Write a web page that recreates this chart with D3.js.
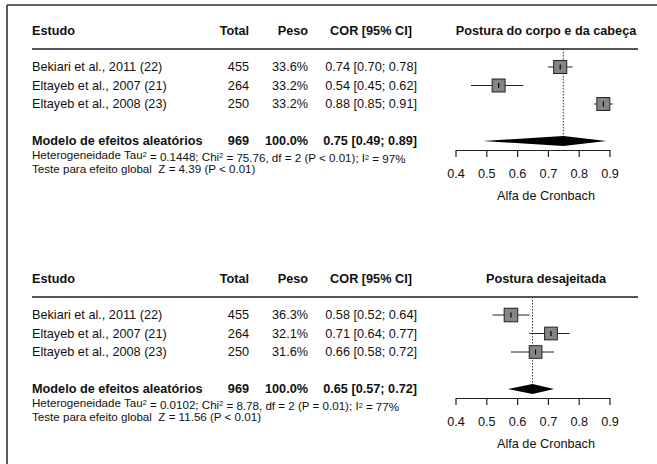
<!DOCTYPE html>
<html>
<head>
<meta charset="utf-8">
<script src="https://cdn.jsdelivr.net/npm/d3@7"></script>
<style>
  html, body { margin: 0; padding: 0; background: #fff; }
  svg { display: block; font-family: "Liberation Sans", Arial, Helvetica, sans-serif; }
  text { fill: #111; white-space: pre; }
</style>
</head>
<body>
<svg id="chart" width="657" height="464"></svg>
<script>
// Study labels shared by both meta-analyses
const studies = ["Bekiari et al., 2011 (22)", "Eltayeb et al., 2007 (21)", "Eltayeb et al., 2008 (23)"];
const totals = [455, 264, 250];

// Panel 1: body and head posture
const title1 = "Postura do corpo e da cabeça";
const weights1 = [33.6, 33.2, 33.2];
const est1 = [0.74, 0.54, 0.88];
const lower1 = [0.70, 0.45, 0.85];
const upper1 = [0.78, 0.62, 0.91];
const pooled1 = [0.75, 0.49, 0.89];
const hetero1 = ["0.1448", "75.76", "2", "P < 0.01", "97%"];
const overall1 = "Z = 4.39 (P < 0.01)";

// Panel 2: awkward posture
const title2 = "Postura desajeitada";
const weights2 = [36.3, 32.1, 31.6];
const est2 = [0.58, 0.71, 0.66];
const lower2 = [0.52, 0.64, 0.58];
const upper2 = [0.64, 0.77, 0.72];
const pooled2 = [0.65, 0.57, 0.72];
const hetero2 = ["0.0102", "8.78", "2", "P = 0.01", "77%"];
const overall2 = "Z = 11.56 (P < 0.01)";

const pooledTotal = 969;
const pooledWeight = "100.0%";
const ticks = [0.4, 0.5, 0.6, 0.7, 0.8, 0.9];
const axisTitle = "Alfa de Cronbach";
const headers = ["Estudo", "Total", "Peso", "COR [95% CI]"];
const modelLabel = "Modelo de efeitos aleatórios";
const heteroLabel = "Heterogeneidade";
const overallLabel = "Teste para efeito global";

const svg = d3.select("#chart");
const fmt2 = d3.format(".2f");
const fmtW = d3.format(".1f");

// frame lines
svg.append("line").attr("x1", 7).attr("x2", 657).attr("y1", 5).attr("y2", 5)
  .attr("stroke", "#333").attr("stroke-width", 1.6);
svg.append("line").attr("x1", 7).attr("x2", 7).attr("y1", 5).attr("y2", 464)
  .attr("stroke", "#333").attr("stroke-width", 1.6);

const x = d3.scaleLinear().domain([0.4, 0.9]).range([455.5, 609.5]);
const col = { study: 32, total: 249, peso: 308, ciRight: 417, ciMid: 371, plotMid: 546, lineEnd: 638 };
const FS = 12.7, FS_SMALL = 11.6;

function panel(top, p) {
  const g = svg.append("g").attr("transform", `translate(0,${top})`);
  // row index -> vertical position (rows 0..2 studies, row 4 pooled)
  const y = d3.scaleLinear().domain([0, 4]).range([67, 141]);

  // headers
  const hy = 31;
  g.append("text").attr("x", col.study).attr("y", hy).attr("dy", "0.35em")
    .attr("font-weight", "bold").attr("font-size", FS).text(headers[0]);
  g.append("text").attr("x", col.total).attr("y", hy).attr("dy", "0.35em").attr("text-anchor", "end")
    .attr("font-weight", "bold").attr("font-size", FS).text(headers[1]);
  g.append("text").attr("x", col.peso).attr("y", hy).attr("dy", "0.35em").attr("text-anchor", "end")
    .attr("font-weight", "bold").attr("font-size", FS).text(headers[2]);
  g.append("text").attr("x", col.ciMid).attr("y", hy).attr("dy", "0.35em").attr("text-anchor", "middle")
    .attr("font-weight", "bold").attr("font-size", FS).text(headers[3]);
  g.append("text").attr("x", col.plotMid).attr("y", hy).attr("dy", "0.35em").attr("text-anchor", "middle")
    .attr("font-weight", "bold").attr("font-size", FS).text(p.title);

  // separator under header
  g.append("line").attr("x1", col.study).attr("x2", col.lineEnd).attr("y1", 49).attr("y2", 49)
    .attr("stroke", "#555").attr("stroke-width", 1.8);

  const rows = studies.map((s, i) => ({ s, i, n: totals[i], w: p.w[i], e: p.e[i], lo: p.lo[i], hi: p.hi[i] }));

  // study rows text
  rows.forEach(r => {
    const yy = y(r.i);
    g.append("text").attr("x", col.study).attr("y", yy).attr("dy", "0.35em").attr("font-size", FS).text(r.s);
    g.append("text").attr("x", col.total).attr("y", yy).attr("dy", "0.35em").attr("text-anchor", "end").attr("font-size", FS).text(r.n);
    g.append("text").attr("x", col.peso).attr("y", yy).attr("dy", "0.35em").attr("text-anchor", "end").attr("font-size", FS).text(fmtW(r.w) + "%");
    g.append("text").attr("x", col.ciRight).attr("y", yy).attr("dy", "0.35em").attr("text-anchor", "end").attr("font-size", FS)
      .text(`${fmt2(r.e)} [${fmt2(r.lo)}; ${fmt2(r.hi)}]`);
  });

  // pooled row text
  const py = y(4);
  g.append("text").attr("x", col.study).attr("y", py).attr("dy", "0.35em").attr("font-weight", "bold").attr("font-size", FS).text(modelLabel);
  g.append("text").attr("x", col.total).attr("y", py).attr("dy", "0.35em").attr("text-anchor", "end").attr("font-weight", "bold").attr("font-size", FS).text(pooledTotal);
  g.append("text").attr("x", col.peso).attr("y", py).attr("dy", "0.35em").attr("text-anchor", "end").attr("font-weight", "bold").attr("font-size", FS).text(pooledWeight);
  g.append("text").attr("x", col.ciRight).attr("y", py).attr("dy", "0.35em").attr("text-anchor", "end").attr("font-weight", "bold").attr("font-size", FS)
    .text(`${fmt2(p.pooled[0])} [${fmt2(p.pooled[1])}; ${fmt2(p.pooled[2])}]`);

  // heterogeneity line with superscripts
  const h = p.het;
  const ht = g.append("text").attr("x", col.study).attr("y", py + 14).attr("dy", "0.35em").attr("font-size", FS_SMALL);
  ht.append("tspan").text(`${heteroLabel} Tau`);
  ht.append("tspan").attr("dy", "-0.33em").attr("font-size", 7.2).text("2");
  ht.append("tspan").attr("dy", "0.33em").text(` = ${h[0]}; Chi`);
  ht.append("tspan").attr("dy", "-0.33em").attr("font-size", 7.2).text("2");
  ht.append("tspan").attr("dy", "0.33em").text(` = ${h[1]}, df = ${h[2]} (${h[3]}); I`);
  ht.append("tspan").attr("dy", "-0.33em").attr("font-size", 7.2).text("2");
  ht.append("tspan").attr("dy", "0.33em").text(` = ${h[4]}`);

  g.append("text").attr("x", col.study).attr("y", py + 27.5).attr("dy", "0.35em").attr("font-size", FS_SMALL)
    .text(`${overallLabel}  ${p.overall}`);

  // reference line at pooled estimate
  g.append("line").attr("x1", x(p.pooled[0])).attr("x2", x(p.pooled[0])).attr("y1", 49).attr("y2", py)
    .attr("stroke", "#333").attr("stroke-width", 1).attr("stroke-dasharray", "1.5,1.5");

  // confidence intervals
  g.selectAll("line.ci").data(rows).join("line").attr("class", "ci")
    .attr("x1", d => x(d.lo)).attr("x2", d => x(d.hi))
    .attr("y1", d => y(d.i)).attr("y2", d => y(d.i))
    .attr("stroke", "#222").attr("stroke-width", 1);

  // weighted squares
  const side = w => 2.25 * Math.sqrt(w);
  g.selectAll("rect.box").data(rows).join("rect").attr("class", "box")
    .attr("x", d => x(d.e) - side(d.w) / 2).attr("y", d => y(d.i) - side(d.w) / 2)
    .attr("width", d => side(d.w)).attr("height", d => side(d.w))
    .attr("fill", "#858585").attr("stroke", "#222").attr("stroke-width", 1);
  g.selectAll("line.pt").data(rows).join("line").attr("class", "pt")
    .attr("x1", d => x(d.e)).attr("x2", d => x(d.e))
    .attr("y1", d => y(d.i) - 2.5).attr("y2", d => y(d.i) + 2.5)
    .attr("stroke", "#000").attr("stroke-width", 1.2);

  // pooled diamond
  const dh = 5;
  g.append("path")
    .attr("d", `M${x(p.pooled[1])},${py} L${x(p.pooled[0])},${py - dh} L${x(p.pooled[2])},${py} L${x(p.pooled[0])},${py + dh} Z`)
    .attr("fill", "#000");

  // x axis
  const ax = g.append("g").attr("transform", "translate(0,150)")
    .call(d3.axisBottom(x).tickValues(ticks).tickFormat(d3.format(".1f")).tickSize(7).tickSizeOuter(0).tickPadding(12));
  ax.select(".domain").attr("stroke", "#222").attr("stroke-width", 1.2);
  ax.selectAll(".tick line").attr("stroke", "#222").attr("stroke-width", 1.2);
  ax.selectAll(".tick text").attr("font-size", FS).attr("font-family", "Liberation Sans, Arial, sans-serif").attr("fill", "#111");

  g.append("text").attr("x", col.plotMid).attr("y", 196).attr("dy", "0.35em").attr("text-anchor", "middle")
    .attr("font-size", FS).text(axisTitle);
}

panel(0, { title: title1, w: weights1, e: est1, lo: lower1, hi: upper1, pooled: pooled1, het: hetero1, overall: overall1 });
panel(248, { title: title2, w: weights2, e: est2, lo: lower2, hi: upper2, pooled: pooled2, het: hetero2, overall: overall2 });
</script>
</body>
</html>
